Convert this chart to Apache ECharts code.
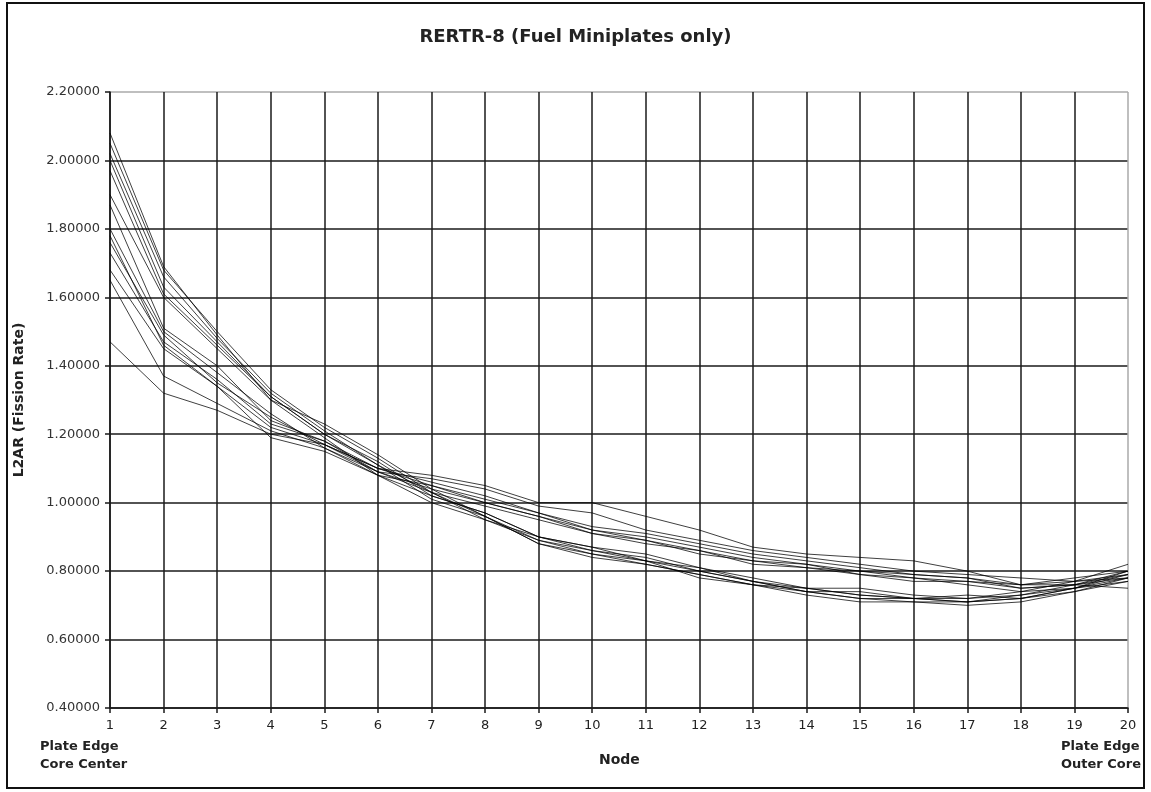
<!DOCTYPE html>
<html>
<head>
<meta charset="utf-8">
<script src="https://cdn.jsdelivr.net/npm/echarts@6/dist/echarts.min.js"></script>
<style>
html,body{margin:0;padding:0;background:#fff;}
#c{width:1151px;height:792px;}
</style>
</head>
<body>
<div id="c"></div>
<script>
var nodes = ['1','2','3','4','5','6','7','8','9','10','11','12','13','14','15','16','17','18','19','20'];
var yTicks = [0.4, 2.2, 0.2];

var s1  = [1.47,1.32,1.27,1.20,1.17,1.10,1.08,1.05,1.00,1.00,0.96,0.92,0.87,0.85,0.84,0.83,0.80,0.76,0.76,0.75];
var s2  = [1.65,1.37,1.29,1.21,1.16,1.09,1.07,1.04,0.99,0.97,0.92,0.89,0.86,0.84,0.82,0.80,0.79,0.78,0.77,0.78];
var s3  = [1.68,1.45,1.34,1.22,1.17,1.10,1.06,1.02,0.97,0.93,0.91,0.88,0.85,0.83,0.81,0.79,0.78,0.76,0.77,0.79];
var s4  = [1.73,1.47,1.36,1.23,1.18,1.10,1.05,1.01,0.97,0.92,0.90,0.87,0.84,0.82,0.80,0.79,0.78,0.75,0.76,0.80];
var s5  = [1.76,1.49,1.35,1.25,1.17,1.09,1.04,1.00,0.96,0.92,0.89,0.86,0.83,0.81,0.80,0.78,0.77,0.76,0.78,0.80];
var s6  = [1.80,1.50,1.38,1.26,1.16,1.08,1.05,1.00,0.96,0.91,0.89,0.85,0.83,0.82,0.79,0.78,0.76,0.74,0.77,0.82];
var s7  = [1.87,1.51,1.40,1.24,1.18,1.09,1.03,0.99,0.95,0.91,0.88,0.86,0.82,0.81,0.79,0.77,0.77,0.75,0.76,0.79];
var s8  = [1.90,1.60,1.45,1.30,1.19,1.08,1.02,0.97,0.90,0.87,0.85,0.81,0.78,0.75,0.75,0.73,0.72,0.73,0.76,0.78];
var s9  = [1.97,1.61,1.46,1.31,1.20,1.11,1.03,0.96,0.89,0.86,0.84,0.80,0.77,0.75,0.73,0.72,0.72,0.74,0.75,0.79];
var s10 = [2.00,1.63,1.47,1.31,1.20,1.12,1.02,0.97,0.90,0.86,0.83,0.81,0.77,0.74,0.72,0.72,0.71,0.72,0.75,0.77];
var s11 = [2.02,1.66,1.48,1.32,1.21,1.11,1.01,0.96,0.88,0.85,0.82,0.79,0.76,0.74,0.72,0.71,0.70,0.71,0.74,0.78];
var s12 = [2.05,1.68,1.50,1.33,1.22,1.13,1.03,0.95,0.89,0.85,0.83,0.78,0.76,0.73,0.71,0.71,0.71,0.72,0.74,0.77];
var s13 = [2.08,1.69,1.49,1.30,1.23,1.14,1.04,0.96,0.88,0.84,0.82,0.79,0.76,0.75,0.73,0.72,0.71,0.73,0.75,0.80];
var s14 = [1.78,1.46,1.34,1.19,1.15,1.08,1.00,0.95,0.90,0.87,0.83,0.80,0.77,0.74,0.74,0.72,0.73,0.72,0.75,0.78];

var allSeries = [s1,s2,s3,s4,s5,s6,s7,s8,s9,s10,s11,s12,s13,s14];

var chart = echarts.init(document.getElementById('c'), null, {renderer:'canvas'});
var FONT = '"DejaVu Sans", Arial, sans-serif';

var xSplitColors = nodes.map(function(n, i){ return i === nodes.length - 1 ? '#aaa' : '#1a1a1a'; });
var ySplitColors = [];
for (var k = 0; k < 10; k++) ySplitColors.push(k === 9 ? '#aaa' : '#1a1a1a');

var option = {
  animation: false,
  backgroundColor: '#fff',
  title: {
    text: 'RERTR-8 (Fuel Miniplates only)',
    left: 'center',
    top: 23,
    textStyle: {fontFamily: FONT, fontSize: 18, fontWeight: 'bold', color: '#222'}
  },
  grid: {left: 110, right: 23, top: 92, bottom: 84, containLabel: false},
  xAxis: {
    type: 'category',
    data: nodes,
    boundaryGap: false,
    axisLine: {lineStyle: {color: '#1a1a1a', width: 1.5}},
    axisTick: {show: true, inside: false, length: 5, lineStyle: {color: '#1a1a1a', width: 1.5}, alignWithLabel: true},
    axisLabel: {fontFamily: FONT, fontSize: 13, color: '#222', margin: 11},
    splitLine: {show: true, lineStyle: {color: xSplitColors, width: 1.5}}
  },
  yAxis: {
    type: 'value',
    min: yTicks[0], max: yTicks[1], interval: yTicks[2],
    name: 'L2AR (Fission Rate)',
    nameLocation: 'middle',
    nameGap: 84,
    nameTextStyle: {fontFamily: FONT, fontSize: 14, fontWeight: 'bold', color: '#222'},
    axisLine: {show: true, lineStyle: {color: '#1a1a1a', width: 1.5}},
    axisTick: {show: true, inside: false, length: 5, lineStyle: {color: '#1a1a1a', width: 1.5}},
    axisLabel: {fontFamily: FONT, fontSize: 13, color: '#333', margin: 10,
      formatter: function(v){ return v.toFixed(5); }},
    splitLine: {show: true, lineStyle: {color: ySplitColors, width: 1.5}}
  },
  graphic: [
    {type: 'rect', shape: {x: 7, y: 3, width: 1137, height: 785}, style: {fill: null, stroke: '#111', lineWidth: 2}, silent: true, z: -1},
    {type: 'text', left: 40, top: 740, style: {text: 'Plate Edge', font: 'bold 13px ' + FONT, fill: '#222'}},
    {type: 'text', left: 40, top: 758, style: {text: 'Core Center', font: 'bold 13px ' + FONT, fill: '#222'}},
    {type: 'text', left: 1061, top: 740, style: {text: 'Plate Edge', font: 'bold 13px ' + FONT, fill: '#222'}},
    {type: 'text', left: 1061, top: 758, style: {text: 'Outer Core', font: 'bold 13px ' + FONT, fill: '#222'}},
    {type: 'text', left: 599, top: 753, style: {text: 'Node', font: 'bold 14px ' + FONT, fill: '#222'}}
  ],
  series: allSeries.map(function(d, i){
    return {
      type: 'line',
      name: 'Plate ' + (i+1),
      data: d,
      symbol: 'none',
      smooth: false,
      lineStyle: {color: '#000', width: 1, opacity: 0.75}
    };
  })
};
chart.setOption(option);
</script>
</body>
</html>
